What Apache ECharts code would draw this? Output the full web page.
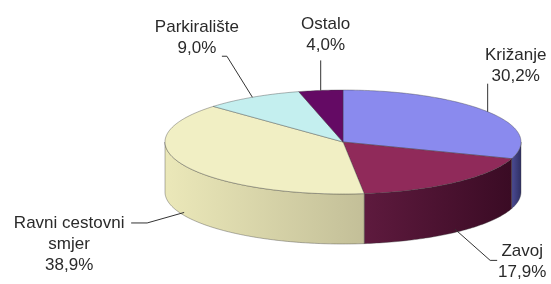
<!DOCTYPE html>
<html>
<head>
<meta charset="utf-8">
<script src="https://cdn.jsdelivr.net/npm/echarts@6/dist/echarts.min.js"></script>
<style>
  html, body { margin: 0; padding: 0; background: #fff; }
  #main { width: 551px; height: 284px; }
</style>
</head>
<body>
<div id="main"></div>
<script>
// data
var categories = ['Križanje', 'Zavoj', 'Ravni cestovni\nsmjer', 'Parkiralište', 'Ostalo'];
var shares = [30.2, 17.9, 38.9, 9.0, 4.0];

// styles
var topColors = ['#8a8aee', '#902a5a', '#f1efc4', '#c4efef', '#640a64'];
var wallColors = [
    ['#4d4d96', '#2e2e62'],
    ['#5e1a3e', '#3a0b24'],
    ['#ebe8b9', '#c3bf98'],
    ['#a0cccc', '#80aaaa'],
    ['#4a064a', '#300430']
];

// pie geometry (3d, seen from above)
var pie = { cx: 343, cy: 142, rx: 178, ry: 52, depth: 50 };

// leader line bends and text box, relative to the slice anchor
var labelLayout = [
    { line: [[0, -28]], text: [28, -67] },
    { line: [[35, 31], [42, 31]], text: [67, 11] },
    { line: [[-37, 10.5], [-53, 10.5]], text: [-115, 0] },
    { line: [[-25.5, -41], [-30.5, -41]], text: [-55.5, -80] },
    { line: [[0, -30]], text: [5, -77] }
];

var total = shares.reduce(function (a, b) { return a + b; }, 0);

function pt(a, dy) {
    var r = a * Math.PI / 180;
    return [pie.cx + pie.rx * Math.sin(r), pie.cy - pie.ry * Math.cos(r) + (dy || 0)];
}

function arc(a0, a1, dy) {
    var pts = [];
    var n = Math.max(2, Math.ceil(Math.abs(a1 - a0)));
    for (var k = 0; k <= n; k++) {
        pts.push(pt(a0 + (a1 - a0) * k / n, dy));
    }
    return pts;
}

function fmt(v) {
    return v.toFixed(1).replace('.', ',') + '%';
}

function renderItem(params, api) {
    var i = params.dataIndex;
    var v = api.value(0);
    var start = 0;
    for (var k = 0; k < i; k++) start += shares[k];
    var a0 = start / total * 360;
    var a1 = (start + v) / total * 360;
    var children = [];

    // front wall
    var s = Math.max(a0, 90), e = Math.min(a1, 270);
    if (s < e) {
        var wall = arc(s, e, 0).concat(arc(e, s, pie.depth));
        children.push({
            type: 'polygon',
            shape: { points: wall },
            style: {
                fill: {
                    type: 'linear', x: 0, y: 0, x2: 1, y2: 0,
                    colorStops: [
                        { offset: 0, color: wallColors[i][0] },
                        { offset: 1, color: wallColors[i][1] }
                    ]
                },
                stroke: 'rgba(60,60,60,0.55)',
                lineWidth: 0.7
            }
        });
    }

    // top face
    children.push({
        type: 'polygon',
        shape: { points: [[pie.cx, pie.cy]].concat(arc(a0, a1, 0)) },
        style: { fill: topColors[i], stroke: 'rgba(60,60,60,0.55)', lineWidth: 0.7 }
    });

    // label anchor
    var mid = (a0 + a1) / 2;
    var front = Math.cos(mid * Math.PI / 180) < 0;
    var anchor = pt(mid, front ? pie.depth * 0.94 : 0);
    var lay = labelLayout[i];
    var linePts = [anchor].concat(lay.line.map(function (p) {
        return [anchor[0] + p[0], anchor[1] + p[1]];
    }));
    children.push({
        type: 'polyline',
        shape: { points: linePts },
        style: { stroke: '#333', lineWidth: 1, fill: null },
        z2: 10
    });
    children.push({
        type: 'text',
        style: {
            text: categories[i] + '\n' + fmt(v),
            x: anchor[0] + lay.text[0],
            y: anchor[1] + lay.text[1],
            align: 'center',
            verticalAlign: 'top',
            fontFamily: '"Liberation Sans", Arial, sans-serif',
            fontSize: 17,
            lineHeight: 21,
            fill: '#2a2a2a'
        },
        z2: 10
    });

    return { type: 'group', children: children };
}

var option = {
    backgroundColor: '#fff',
    animation: false,
    series: [{
        type: 'custom',
        coordinateSystem: 'none',
        silent: true,
        renderItem: renderItem,
        data: shares.map(function (v) { return [v]; })
    }]
};

var chart = echarts.init(document.getElementById('main'));
chart.setOption(option);
</script>
</body>
</html>
